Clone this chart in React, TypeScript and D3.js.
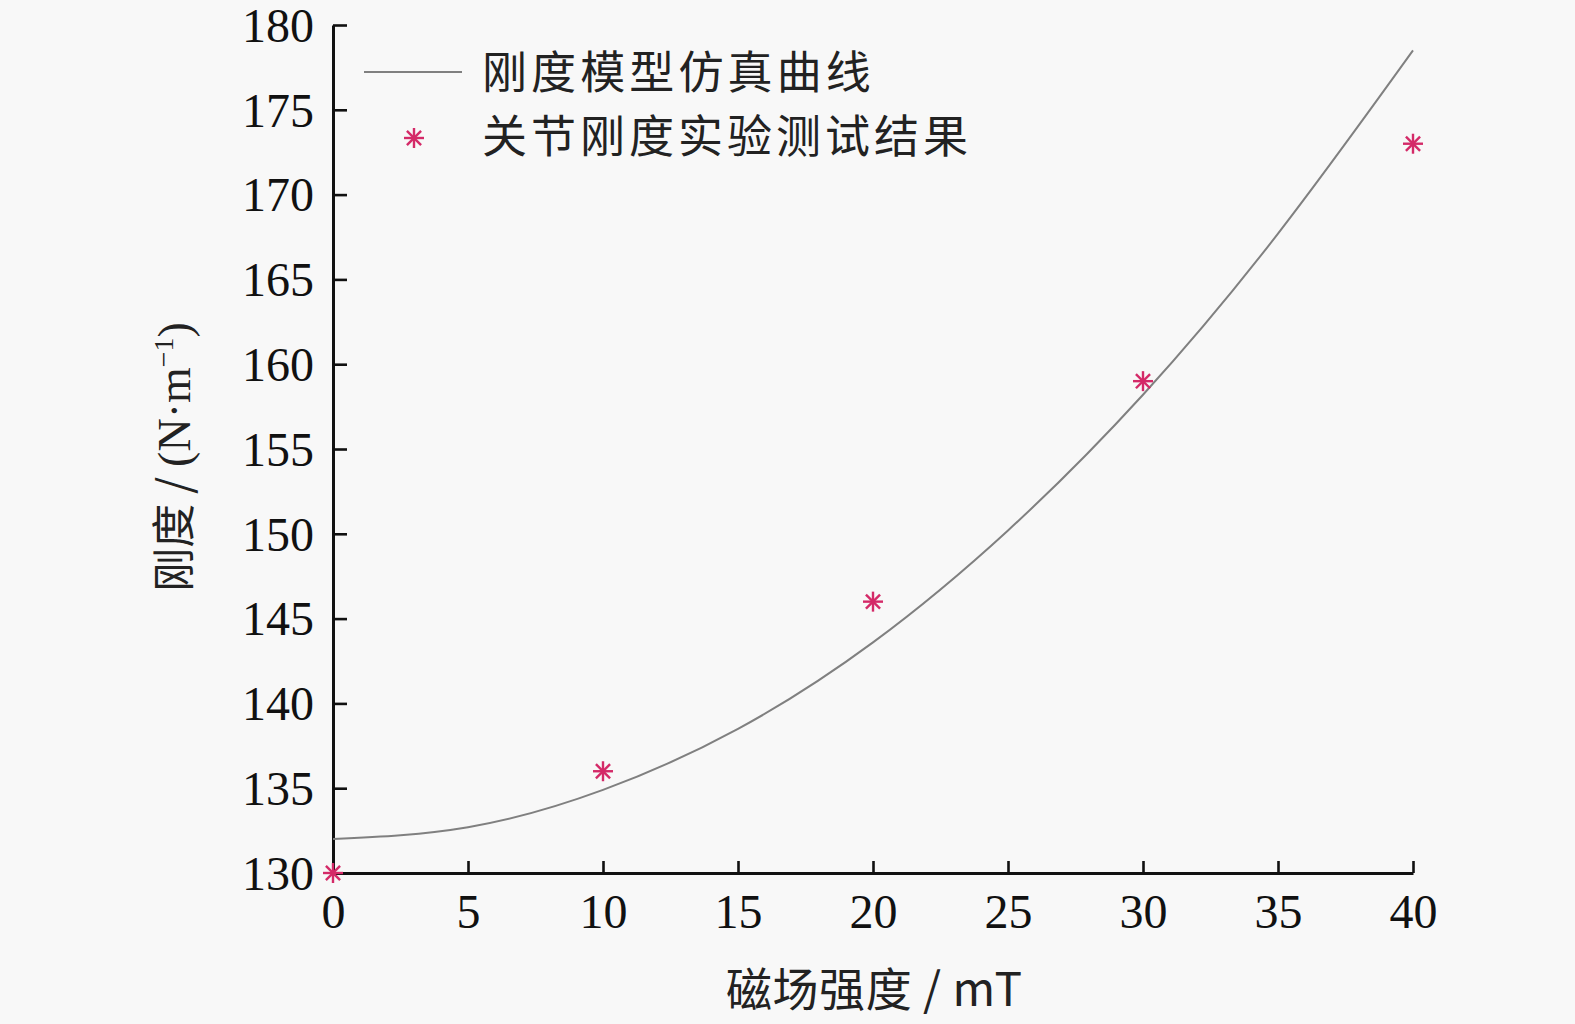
import React, { useEffect, useRef } from "react"
import * as d3 from "d3"

// simulated stiffness curve, every 5 mT
const curveX = [0, 5, 10, 15, 20, 25, 30, 35, 40]
const curveY = [132, 132.7, 134.9, 138.5, 143.6, 150.2, 158.2, 167.7, 178.5]

// experiment points
const testX = [0, 10, 20, 30, 40]
const testY = [130, 136, 146, 159, 173]

const xTicks = [0, 5, 10, 15, 20, 25, 30, 35, 40]
const yTicks = [130, 135, 140, 145, 150, 155, 160, 165, 170, 175, 180]

const legendLabels = ["刚度模型仿真曲线", "关节刚度实验测试结果"]
const xTitle = "磁场强度 / mT"

const W = 1575
const H = 1024
const margin = { left: 333, right: 162, top: 25, bottom: 151 }

const serif = "'Liberation Serif', 'Times New Roman', serif"
const cjk = "'Noto Sans CJK SC', 'Liberation Serif', serif"
const markColor = "#d42a68"

const App: React.FC = () => {
  const svgRef = useRef<SVGSVGElement>(null)

  useEffect(() => {
    document.body.style.margin = "0"
    document.body.style.background = "#f8f8f8"
    if (!svgRef.current) return
    const svg = d3.select(svgRef.current)
    svg.selectAll("*").remove()

    const x = d3.scaleLinear().domain([0, 40]).range([margin.left, W - margin.right])
    const y = d3.scaleLinear().domain([130, 180]).range([H - margin.bottom, margin.top])

    // axes, ticks pointing inward
    const xAxis = d3.axisBottom(x).tickValues(xTicks).tickSizeInner(-12).tickSizeOuter(0).tickPadding(21)
    const yAxis = d3.axisLeft(y).tickValues(yTicks).tickSizeInner(-14).tickSizeOuter(0).tickPadding(19)

    const gx = svg.append("g").attr("transform", `translate(0,${y(130)})`).call(xAxis)
    const gy = svg.append("g").attr("transform", `translate(${x(0)},0)`).call(yAxis)

    ;[gx, gy].forEach(g => {
      g.select(".domain").attr("stroke", "#111").attr("stroke-width", 3)
      g.selectAll(".tick line").attr("stroke", "#111").attr("stroke-width", 2.6)
      g.selectAll(".tick text")
        .attr("fill", "#111")
        .attr("font-family", serif)
        .attr("font-size", 48)
    })
    gx.selectAll(".tick text").attr("dy", "0.71em")
    gy.selectAll(".tick text").attr("dy", "0.34em")

    // simulation curve
    const line = d3.line<number>()
      .x((d, i) => x(curveX[i]))
      .y(d => y(d))
      .curve(d3.curveNatural)

    svg.append("path")
      .datum(curveY)
      .attr("d", line)
      .attr("fill", "none")
      .attr("stroke", "#808080")
      .attr("stroke-width", 2)

    // asterisk marker
    const star = (g: d3.Selection<SVGGElement, unknown, null, undefined>, cx: number, cy: number) => {
      const r = 10
      const s = g.append("g").attr("transform", `translate(${cx},${cy})`)
      ;[0, 45, 90, 135].forEach(a => {
        const rad = (a * Math.PI) / 180
        s.append("line")
          .attr("x1", -r * Math.cos(rad)).attr("y1", -r * Math.sin(rad))
          .attr("x2", r * Math.cos(rad)).attr("y2", r * Math.sin(rad))
          .attr("stroke", markColor)
          .attr("stroke-width", 2.4)
      })
    }

    const pts = svg.append("g")
    testY.forEach((v, i) => star(pts, x(testX[i]), y(v)))

    // legend
    const leg = svg.append("g")
    leg.append("line")
      .attr("x1", 364).attr("x2", 462).attr("y1", 72).attr("y2", 72)
      .attr("stroke", "#808080").attr("stroke-width", 2)
    star(leg, 414, 138)
    legendLabels.forEach((t, i) => {
      leg.append("text")
        .attr("x", 482).attr("y", 89 + i * 64)
        .attr("font-family", cjk)
        .attr("font-size", 45)
        .attr("fill", "#222")
        .attr("textLength", t.length * 48.6)
        .text(t)
    })

    // axis titles
    svg.append("text")
      .attr("x", 874).attr("y", 1006)
      .attr("text-anchor", "middle")
      .attr("font-family", cjk)
      .attr("font-size", 46)
      .attr("fill", "#222")
      .attr("textLength", 296)
      .text(xTitle)

    const yt = svg.append("text")
      .attr("transform", `translate(190,457) rotate(-90)`)
      .attr("text-anchor", "middle")
      .attr("font-family", cjk)
      .attr("font-size", 44)
      .attr("fill", "#222")
    yt.append("tspan").text("刚度 / ")
    yt.append("tspan").attr("font-family", serif).attr("font-size", 46).text("(N·m")
    yt.append("tspan").attr("font-family", serif).attr("font-size", 28).attr("dy", -17).text("−1")
    yt.append("tspan").attr("font-family", serif).attr("font-size", 46).attr("dy", 17).text(")")
  }, [])

  return <svg ref={svgRef} width={W} height={H} style={{ display: "block", background: "#f8f8f8" }} />
}

export default App
